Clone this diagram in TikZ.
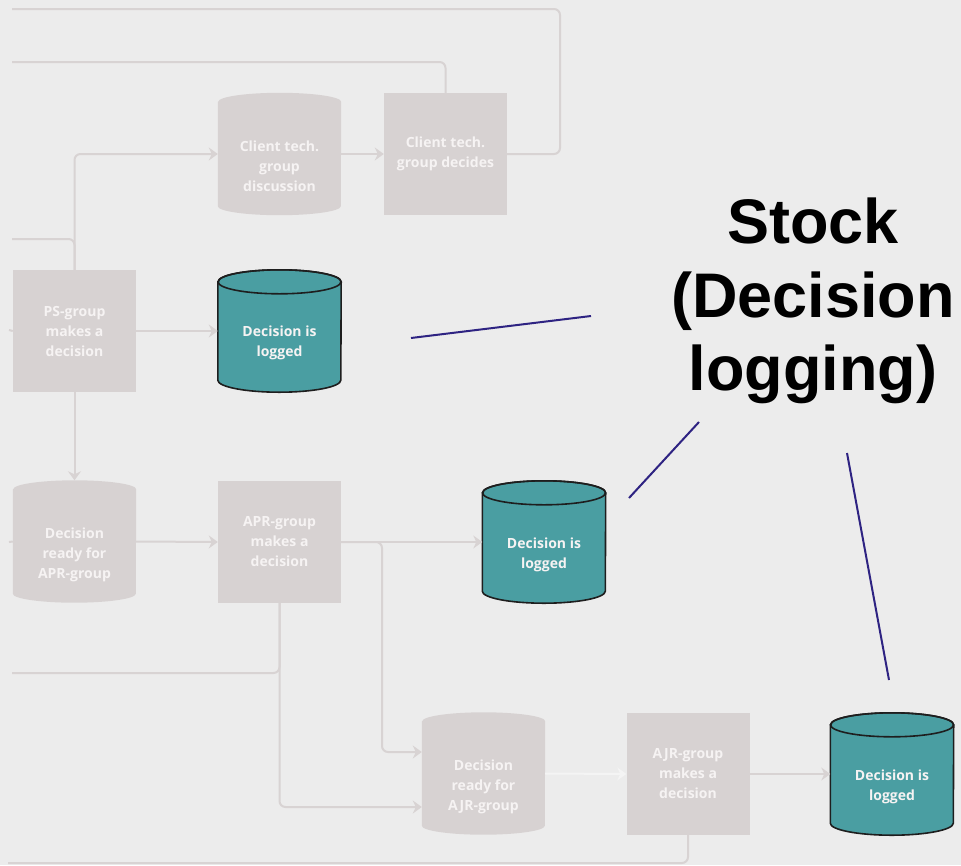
\documentclass[tikz,border=0pt]{standalone}
\usepackage{fontspec}
\setmainfont{Open Sans}
\newfontfamily\annofont{Liberation Sans}
\usetikzlibrary{arrows.meta,calc}

\pgfdeclarelayer{canvas}
\pgfdeclarelayer{bodies}
\pgfsetlayers{canvas,bodies,main}

\definecolor{paper}{HTML}{ECECEC}
\definecolor{boxgray}{HTML}{D7D2D2}
\definecolor{linegray}{HTML}{D8D3D3}
\definecolor{boxtext}{HTML}{F6F3F3}
\definecolor{faintline}{HTML}{F4F4F4}
\definecolor{tealfill}{HTML}{4A9EA2}
\definecolor{tealedge}{HTML}{1E1E1E}
\definecolor{navy}{HTML}{2E2382}

\tikzset{
  proc/.style={rectangle, fill=boxgray, minimum width=123pt, minimum height=122pt,
    inner sep=0pt, text=boxtext, align=center,
    font=\fontsize{14pt}{20pt}\selectfont\bfseries},
  drum/.style={rectangle, minimum width=123pt, minimum height=122pt, inner sep=0pt},
  drumtext/.style={inner sep=0pt, text=boxtext, align=center,
    font=\fontsize{14pt}{20pt}\selectfont\bfseries},
  conn/.style={draw=linegray, line width=2pt, rounded corners=6pt},
  flow/.style={conn, -{Stealth[length=9pt,width=13pt,inset=3pt]}},
  faintflow/.style={draw=faintline, line width=2pt, -{Stealth[length=9pt,width=13pt,inset=3pt]}},
  anno/.style={inner sep=0pt, align=center, text=black,
    font=\annofont\bfseries\fontsize{63pt}{73.5pt}\selectfont},
  pointer/.style={draw=navy, line width=2pt},
}

% cylinder body behind a node: #1 node, #2 fill, #3 outline options, #4 cap half-height
\newcommand{\drumbody}[4]{%
  \begin{pgfonlayer}{bodies}
    \path[fill=#2,#3]
      ([yshift=-#4]#1.north west) -- ([yshift=#4]#1.south west)
      arc[start angle=180, end angle=360, x radius=61.5pt, y radius=#4]
      -- ([yshift=-#4]#1.north east)
      arc[start angle=0, end angle=180, x radius=61.5pt, y radius=#4]
      -- cycle;
    \path[#3] ([yshift=-#4]#1.north) ellipse[x radius=61.5pt, y radius=#4];
  \end{pgfonlayer}}

\begin{document}
\begin{tikzpicture}[x=1pt, y=-1pt]
  \useasboundingbox (0,0) rectangle (961,865);
  \begin{pgfonlayer}{canvas}
    \fill[paper] (0,0) rectangle (961,865);
  \end{pgfonlayer}

  % process boxes
  \node[proc] (ctg) at (445.5,154) {Client tech.\\group decides};
  \node[proc] (ps)  at (74.5,331)  {PS-group\\makes a\\decision};
  \node[proc] (apr) at (279.5,542) {APR-group\\makes a\\decision};
  \node[proc] (ajr) at (688,774)   {AJR-group\\makes a\\decision};

  % cylinders
  \node[drum] (ctd)  at (279.5,154)  {};
  \node[drum] (log1) at (279.5,331)  {};
  \node[drum] (rapr) at (74.5,541.5) {};
  \node[drum] (log2) at (544,542)    {};
  \node[drum] (rajr) at (483.5,773.5){};
  \node[drum] (log3) at (892,774)    {};

  \drumbody{ctd}{boxgray}{draw=none}{9pt}
  \drumbody{rapr}{boxgray}{draw=none}{9pt}
  \drumbody{rajr}{boxgray}{draw=none}{9pt}
  \drumbody{log1}{tealfill}{draw=tealedge, line width=1.6pt}{12pt}
  \drumbody{log2}{tealfill}{draw=tealedge, line width=1.6pt}{12pt}
  \drumbody{log3}{tealfill}{draw=tealedge, line width=1.6pt}{12pt}

  \node[drumtext] (ctd-t)  at ($(ctd.center)+(0,12)$)  {Client tech.\\group\\discussion};
  \node[drumtext] (log1-t) at ($(log1.center)+(0,12)$) {Decision is\\logged};
  \node[drumtext] (rapr-t) at ($(rapr.center)+(0,13)$) {Decision\\ready for\\APR-group};
  \node[drumtext] (log2-t) at ($(log2.center)+(0,13)$) {Decision is\\logged};
  \node[drumtext] (rajr-t) at ($(rajr.center)+(0,13)$) {Decision\\ready for\\AJR-group};
  \node[drumtext] (log3-t) at ($(log3.center)+(0,13)$) {Decision is\\logged};

  % loose ends leaving the frame
  \coordinate (top-turn) at (560,9);
  \coordinate (top-end)  at (12,9);
  \coordinate (mid-end)  at (12,62);
  \coordinate (ps-in)    at (12,239);
  \coordinate (apr-out)  at (12,673);
  \coordinate (ajr-out)  at (8,863);
  \coordinate (ps-stub)  at (9,330);
  \coordinate (rapr-stub) at (9,542);
  \coordinate (split-a)  at (382,752);
  \coordinate (split-b)  at (279.5,807);

  % connectors
  \draw[conn] (ctg.east) -| (top-turn) -- (top-end);
  \draw[conn] (ctg.north) |- (mid-end);
  \draw[flow] (ps.north) |- (ctd.west);
  \draw[conn] (ps-in) -| (ps.north);
  \draw[flow] (ctd.east) -- (ctg.west);
  \draw[flow] (ps.east) -- (log1.west);
  \draw[conn] (ps-stub) -- (ps.west);
  \draw[flow] (ps.south) -- (rapr.north);
  \draw[conn] (rapr-stub) -- (rapr.west);
  \draw[flow] (rapr.east) -- (apr.west);
  \draw[flow] (apr.east) -- (log2.west);
  \draw[flow] (apr.east) -| (split-a) -- (rajr.west |- split-a);
  \draw[flow] (apr.south) -- (split-b) -- (rajr.west |- split-b);
  \draw[conn] (apr-out) -| (apr.south);
  \draw[faintflow] (rajr.east) -- (ajr.west);
  \draw[flow] (ajr.east) -- (log3.west);
  \draw[conn] (ajr.south) |- (ajr-out);

  % annotation
  \node[anno] (stock) at (813,301) {Stock\\(Decision\\logging)};
  \coordinate (p1a) at (411,338); \coordinate (p1b) at (591,316);
  \coordinate (p2a) at (629,498); \coordinate (p2b) at (699,422);
  \coordinate (p3a) at (847,453); \coordinate (p3b) at (889,680);
  \draw[pointer] (p1a) -- (p1b);
  \draw[pointer] (p2a) -- (p2b);
  \draw[pointer] (p3a) -- (p3b);
\end{tikzpicture}
\end{document}
